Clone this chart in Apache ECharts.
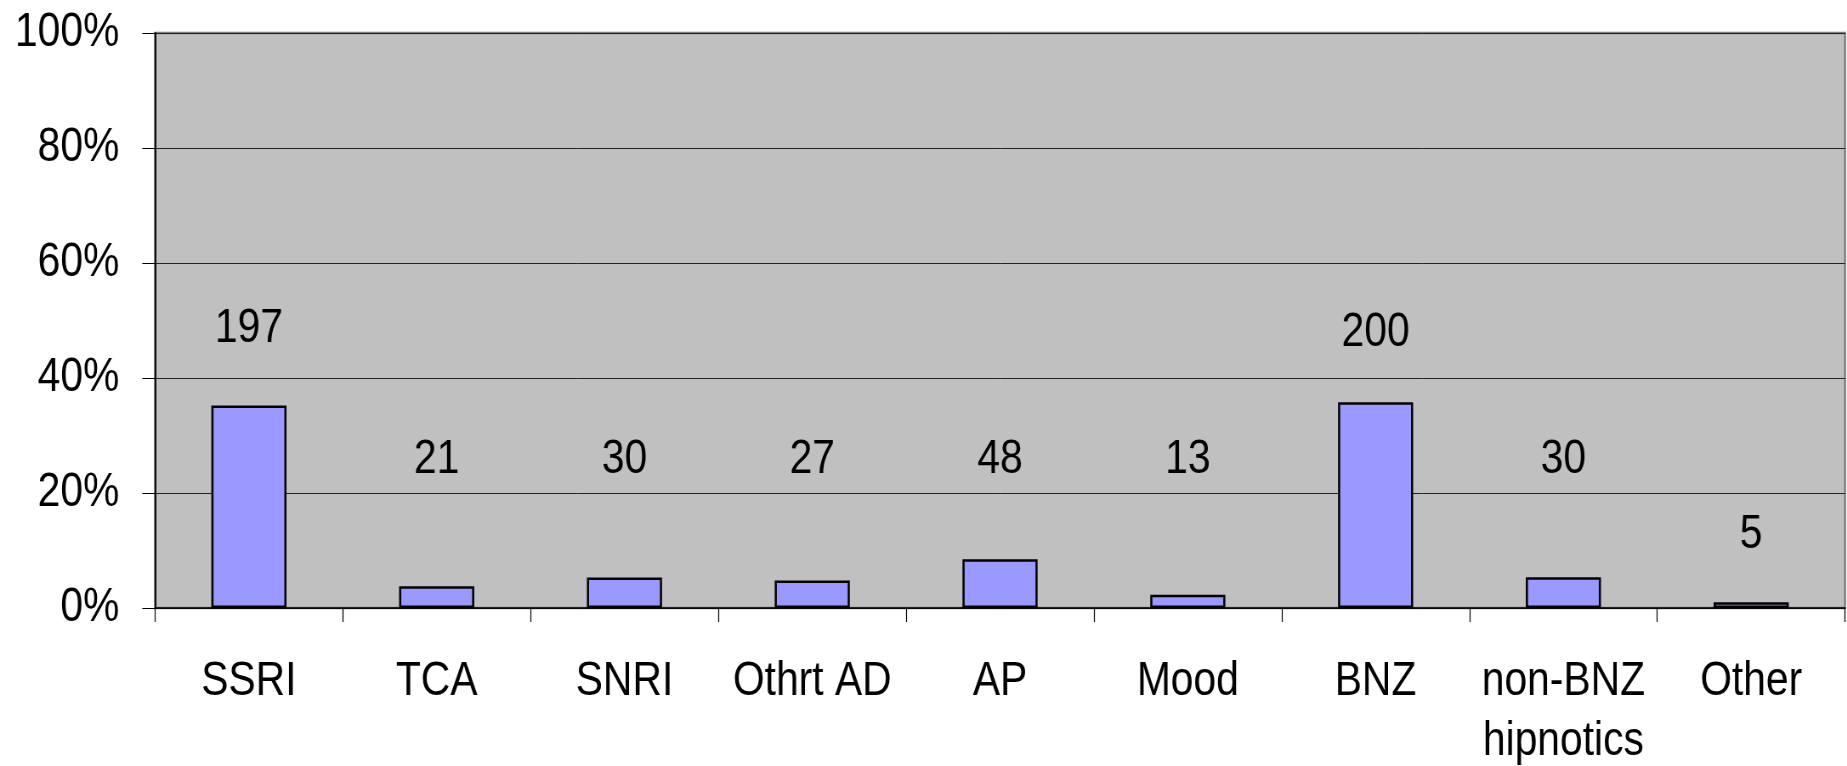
<!DOCTYPE html>
<html><head><meta charset="utf-8">
<script src="https://cdn.jsdelivr.net/npm/echarts@6/dist/echarts.min.js"></script>
<style>html,body{margin:0;padding:0;background:#fff;overflow:hidden}
#wrap{width:1847px;height:766px;overflow:hidden}
#c{height:766px;transform-origin:0 0}</style>
</head><body><div id="wrap"><div id="c"></div></div>
<script>
const categories = ['SSRI','TCA','SNRI','Othrt AD','AP','Mood','BNZ','non-BNZ\nhipnotics','Other'];
const percentValues = [35.2, 3.8, 5.3, 4.8, 8.5, 2.3, 35.8, 5.35, 1.0];
const counts = [197, 21, 30, 27, 48, 13, 200, 30, 5];
const labelLevels = [48.6, 25.8, 25.8, 25.8, 25.8, 25.8, 47.8, 25.8, 12.8];
const yTicks = [0, 20, 40, 60, 80, 100];

// text in the original is horizontally condensed: draw on a wider canvas and squeeze it
const S = 0.85;
const el = document.getElementById('c');
el.style.width = (1847 / S) + 'px';
el.style.transform = 'scaleX(' + S + ')';

const FONT = "'Liberation Sans', Arial, sans-serif";
const FS = 48;
const chart = echarts.init(el, null, {renderer: 'canvas'});
chart.setOption({
  animation: false,
  grid: {left: 155 / S, right: 2 / S, top: 33, bottom: 158, containLabel: false, outerBoundsMode: 'none',
         show: true, backgroundColor: '#C0C0C0', borderColor: '#808080', borderWidth: 2.5},
  xAxis: {
    type: 'category', data: categories, boundaryGap: true,
    axisLine: {lineStyle: {color: '#000', width: 1.5}},
    axisTick: {show: true, alignWithLabel: false, length: 14, lineStyle: {color: '#000', width: 1.2}},
    axisLabel: {interval: 0, margin: 44, fontFamily: FONT, fontSize: FS, color: '#000', lineHeight: 60}
  },
  yAxis: {
    type: 'value', min: 0, max: 100, interval: 20,
    axisLine: {show: true, lineStyle: {color: '#000', width: 1.8}},
    axisTick: {show: true, length: 15, lineStyle: {color: '#000'}},
    splitLine: {show: true, lineStyle: {color: '#222', width: 1}},
    axisLabel: {margin: 42, fontFamily: FONT, fontSize: FS, color: '#000', formatter: v => yTicks.includes(v) ? v + '%' : ''}
  },
  series: [
    {type: 'bar', data: percentValues, barWidth: '40%', z: 3,
     itemStyle: {color: '#9999FF', borderColor: '#000', borderWidth: 2.5}},
    {type: 'scatter', data: labelLevels, symbolSize: 0, z: 4, silent: true,
     itemStyle: {opacity: 1},
     label: {show: true, position: 'inside', formatter: p => String(counts[p.dataIndex]),
             fontFamily: FONT, fontSize: FS, color: '#000', opacity: 1, textBorderWidth: 0}}
  ]
});
</script></body></html>
